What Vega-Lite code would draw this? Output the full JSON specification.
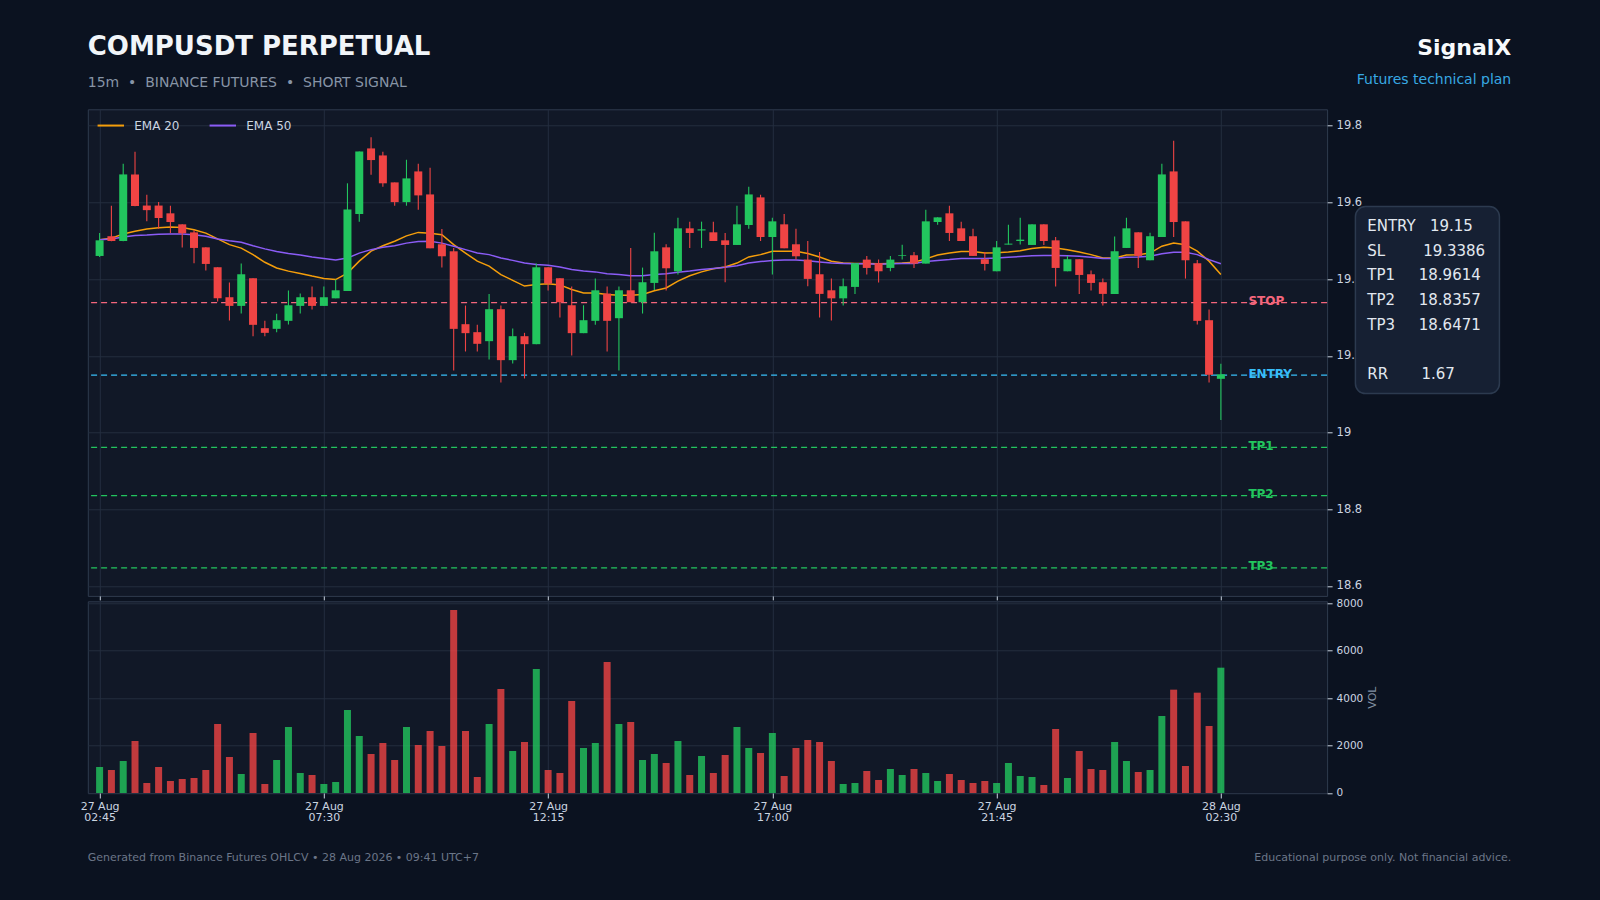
{
"$schema": "https://vega.github.io/schema/vega-lite/v6.json",
"background": "#0b1220",
"padding": {"left": 78.8, "top": 33.3, "right": 100, "bottom": 45},
"spacing": 5,
"bounds": "flush",
"datasets": {
"one": [{"k": 1}],
"levels": [
{"name": "STOP", "price": 19.3386},
{"name": "ENTRY", "price": 19.15},
{"name": "TP1", "price": 18.9614},
{"name": "TP2", "price": 18.8357},
{"name": "TP3", "price": 18.6471}
],
"candles": [
{"t":"2026-08-27T02:45","open":19.4605,"high":19.5205,"low":19.458,"close":19.5013,"volume":1095,"ema20":19.503,"ema50":19.503},
{"t":"2026-08-27T03:00","open":19.512,"high":19.5916,"low":19.499,"close":19.4996,"volume":968,"ema20":19.507,"ema50":19.505},
{"t":"2026-08-27T03:15","open":19.4996,"high":19.701,"low":19.499,"close":19.6732,"volume":1347,"ema20":19.518,"ema50":19.510},
{"t":"2026-08-27T03:30","open":19.673,"high":19.732,"low":19.590,"close":19.5908,"volume":2189,"ema20":19.525,"ema50":19.514},
{"t":"2026-08-27T03:45","open":19.592,"high":19.6203,"low":19.5508,"close":19.580,"volume":421,"ema20":19.531,"ema50":19.515},
{"t":"2026-08-27T04:00","open":19.592,"high":19.601,"low":19.5317,"close":19.5595,"volume":1095,"ema20":19.534,"ema50":19.517},
{"t":"2026-08-27T04:15","open":19.5717,"high":19.5916,"low":19.5205,"close":19.549,"volume":505,"ema20":19.536,"ema50":19.518},
{"t":"2026-08-27T04:30","open":19.543,"high":19.543,"low":19.4823,"close":19.5196,"volume":589,"ema20":19.535,"ema50":19.518},
{"t":"2026-08-27T04:45","open":19.522,"high":19.5274,"low":19.4415,"close":19.4814,"volume":632,"ema20":19.529,"ema50":19.516},
{"t":"2026-08-27T05:00","open":19.483,"high":19.483,"low":19.4224,"close":19.4397,"volume":968,"ema20":19.520,"ema50":19.512},
{"t":"2026-08-27T05:15","open":19.431,"high":19.431,"low":19.3416,"close":19.350,"volume":2905,"ema20":19.505,"ema50":19.505},
{"t":"2026-08-27T05:30","open":19.3529,"high":19.3911,"low":19.2921,"close":19.3303,"volume":1516,"ema20":19.490,"ema50":19.500},
{"t":"2026-08-27T05:45","open":19.3303,"high":19.4406,"low":19.3104,"close":19.4128,"volume":800,"ema20":19.481,"ema50":19.496},
{"t":"2026-08-27T06:00","open":19.4024,"high":19.4024,"low":19.2513,"close":19.2809,"volume":2526,"ema20":19.464,"ema50":19.487},
{"t":"2026-08-27T06:15","open":19.2722,"high":19.2913,"low":19.2513,"close":19.260,"volume":379,"ema20":19.444,"ema50":19.479},
{"t":"2026-08-27T06:30","open":19.2705,"high":19.3095,"low":19.2618,"close":19.293,"volume":1389,"ema20":19.429,"ema50":19.472},
{"t":"2026-08-27T06:45","open":19.2913,"high":19.3703,"low":19.2817,"close":19.332,"volume":2779,"ema20":19.421,"ema50":19.467},
{"t":"2026-08-27T07:00","open":19.3303,"high":19.3625,"low":19.3104,"close":19.3529,"volume":842,"ema20":19.415,"ema50":19.463},
{"t":"2026-08-27T07:15","open":19.3529,"high":19.3807,"low":19.3208,"close":19.3303,"volume":758,"ema20":19.408,"ema50":19.458},
{"t":"2026-08-27T07:30","open":19.3303,"high":19.3807,"low":19.3303,"close":19.3529,"volume":379,"ema20":19.402,"ema50":19.454},
{"t":"2026-08-27T07:45","open":19.350,"high":19.399,"low":19.350,"close":19.371,"volume":463,"ema20":19.399,"ema50":19.450},
{"t":"2026-08-27T08:00","open":19.3694,"high":19.650,"low":19.3694,"close":19.582,"volume":3495,"ema20":19.416,"ema50":19.455},
{"t":"2026-08-27T08:15","open":19.570,"high":19.733,"low":19.550,"close":19.733,"volume":2400,"ema20":19.447,"ema50":19.468},
{"t":"2026-08-27T08:30","open":19.741,"high":19.7704,"low":19.6724,"close":19.7106,"volume":1642,"ema20":19.473,"ema50":19.477},
{"t":"2026-08-27T08:45","open":19.7227,"high":19.732,"low":19.641,"close":19.650,"volume":2105,"ema20":19.487,"ema50":19.483},
{"t":"2026-08-27T09:00","open":19.6524,"high":19.6524,"low":19.5916,"close":19.601,"volume":1389,"ema20":19.499,"ema50":19.487},
{"t":"2026-08-27T09:15","open":19.601,"high":19.7114,"low":19.5916,"close":19.6628,"volume":2779,"ema20":19.513,"ema50":19.494},
{"t":"2026-08-27T09:30","open":19.681,"high":19.701,"low":19.5812,"close":19.6185,"volume":2021,"ema20":19.522,"ema50":19.498},
{"t":"2026-08-27T09:45","open":19.621,"high":19.6906,"low":19.4805,"close":19.4805,"volume":2611,"ema20":19.520,"ema50":19.499},
{"t":"2026-08-27T10:00","open":19.491,"high":19.5309,"low":19.4302,"close":19.4597,"volume":1979,"ema20":19.516,"ema50":19.494},
{"t":"2026-08-27T10:15","open":19.4727,"high":19.4814,"low":19.162,"close":19.2704,"volume":7705,"ema20":19.490,"ema50":19.486},
{"t":"2026-08-27T10:30","open":19.2826,"high":19.3312,"low":19.2114,"close":19.2592,"volume":2611,"ema20":19.468,"ema50":19.477},
{"t":"2026-08-27T10:45","open":19.2618,"high":19.2809,"low":19.2114,"close":19.2314,"volume":674,"ema20":19.447,"ema50":19.468},
{"t":"2026-08-27T11:00","open":19.2383,"high":19.3616,"low":19.1906,"close":19.3217,"volume":2905,"ema20":19.434,"ema50":19.464},
{"t":"2026-08-27T11:15","open":19.3217,"high":19.3312,"low":19.1307,"close":19.1888,"volume":4379,"ema20":19.412,"ema50":19.455},
{"t":"2026-08-27T11:30","open":19.1888,"high":19.2713,"low":19.180,"close":19.2513,"volume":1768,"ema20":19.397,"ema50":19.449},
{"t":"2026-08-27T11:45","open":19.2513,"high":19.260,"low":19.141,"close":19.2305,"volume":2147,"ema20":19.382,"ema50":19.442},
{"t":"2026-08-27T12:00","open":19.2305,"high":19.4406,"low":19.2305,"close":19.431,"volume":5221,"ema20":19.386,"ema50":19.438},
{"t":"2026-08-27T12:15","open":19.431,"high":19.431,"low":19.3703,"close":19.3885,"volume":968,"ema20":19.388,"ema50":19.436},
{"t":"2026-08-27T12:30","open":19.4024,"high":19.4024,"low":19.2999,"close":19.3399,"volume":842,"ema20":19.385,"ema50":19.432},
{"t":"2026-08-27T12:45","open":19.332,"high":19.3807,"low":19.201,"close":19.2592,"volume":3874,"ema20":19.373,"ema50":19.425},
{"t":"2026-08-27T13:00","open":19.2592,"high":19.332,"low":19.2592,"close":19.293,"volume":1895,"ema20":19.364,"ema50":19.421},
{"t":"2026-08-27T13:15","open":19.2913,"high":19.4015,"low":19.2809,"close":19.371,"volume":2105,"ema20":19.364,"ema50":19.419},
{"t":"2026-08-27T13:30","open":19.3625,"high":19.3807,"low":19.2114,"close":19.2913,"volume":5516,"ema20":19.360,"ema50":19.414},
{"t":"2026-08-27T13:45","open":19.2982,"high":19.3807,"low":19.162,"close":19.371,"volume":2905,"ema20":19.358,"ema50":19.412},
{"t":"2026-08-27T14:00","open":19.371,"high":19.4814,"low":19.3399,"close":19.3399,"volume":2989,"ema20":19.358,"ema50":19.409},
{"t":"2026-08-27T14:15","open":19.3399,"high":19.4302,"low":19.3104,"close":19.392,"volume":1389,"ema20":19.360,"ema50":19.409},
{"t":"2026-08-27T14:30","open":19.3902,"high":19.5213,"low":19.372,"close":19.4727,"volume":1642,"ema20":19.370,"ema50":19.412},
{"t":"2026-08-27T14:45","open":19.483,"high":19.491,"low":19.3703,"close":19.4284,"volume":1263,"ema20":19.377,"ema50":19.414},
{"t":"2026-08-27T15:00","open":19.4206,"high":19.5604,"low":19.4119,"close":19.5326,"volume":2189,"ema20":19.395,"ema50":19.418},
{"t":"2026-08-27T15:15","open":19.5326,"high":19.550,"low":19.4814,"close":19.5205,"volume":758,"ema20":19.409,"ema50":19.421},
{"t":"2026-08-27T15:30","open":19.527,"high":19.550,"low":19.4814,"close":19.530,"volume":1558,"ema20":19.419,"ema50":19.425},
{"t":"2026-08-27T15:45","open":19.5222,"high":19.550,"low":19.4996,"close":19.4996,"volume":842,"ema20":19.427,"ema50":19.428},
{"t":"2026-08-27T16:00","open":19.5013,"high":19.5205,"low":19.392,"close":19.4892,"volume":1600,"ema20":19.432,"ema50":19.431},
{"t":"2026-08-27T16:15","open":19.4892,"high":19.5916,"low":19.4892,"close":19.543,"volume":2779,"ema20":19.442,"ema50":19.435},
{"t":"2026-08-27T16:30","open":19.5413,"high":19.641,"low":19.5317,"close":19.621,"volume":1895,"ema20":19.458,"ema50":19.442},
{"t":"2026-08-27T16:45","open":19.6133,"high":19.6203,"low":19.4996,"close":19.510,"volume":1684,"ema20":19.464,"ema50":19.446},
{"t":"2026-08-27T17:00","open":19.510,"high":19.5604,"low":19.4119,"close":19.5508,"volume":2526,"ema20":19.473,"ema50":19.449},
{"t":"2026-08-27T17:15","open":19.543,"high":19.5699,"low":19.4805,"close":19.4805,"volume":716,"ema20":19.473,"ema50":19.450},
{"t":"2026-08-27T17:30","open":19.491,"high":19.5317,"low":19.451,"close":19.4597,"volume":1895,"ema20":19.473,"ema50":19.450},
{"t":"2026-08-27T17:45","open":19.451,"high":19.4996,"low":19.3816,"close":19.4007,"volume":2232,"ema20":19.467,"ema50":19.448},
{"t":"2026-08-27T18:00","open":19.4128,"high":19.471,"low":19.2999,"close":19.3616,"volume":2147,"ema20":19.458,"ema50":19.445},
{"t":"2026-08-27T18:15","open":19.371,"high":19.4015,"low":19.2921,"close":19.350,"volume":1347,"ema20":19.447,"ema50":19.442},
{"t":"2026-08-27T18:30","open":19.350,"high":19.4015,"low":19.3312,"close":19.3816,"volume":379,"ema20":19.442,"ema50":19.441},
{"t":"2026-08-27T18:45","open":19.3798,"high":19.4415,"low":19.3616,"close":19.4415,"volume":421,"ema20":19.441,"ema50":19.440},
{"t":"2026-08-27T19:00","open":19.451,"high":19.4606,"low":19.4119,"close":19.4293,"volume":926,"ema20":19.441,"ema50":19.440},
{"t":"2026-08-27T19:15","open":19.4415,"high":19.451,"low":19.3911,"close":19.4206,"volume":547,"ema20":19.440,"ema50":19.439},
{"t":"2026-08-27T19:30","open":19.4293,"high":19.4606,"low":19.4206,"close":19.451,"volume":1011,"ema20":19.441,"ema50":19.440},
{"t":"2026-08-27T19:45","open":19.4606,"high":19.490,"low":19.451,"close":19.4624,"volume":758,"ema20":19.442,"ema50":19.441},
{"t":"2026-08-27T20:00","open":19.4624,"high":19.471,"low":19.4293,"close":19.4406,"volume":1011,"ema20":19.444,"ema50":19.441},
{"t":"2026-08-27T20:15","open":19.4406,"high":19.5812,"low":19.4406,"close":19.5508,"volume":842,"ema20":19.453,"ema50":19.446},
{"t":"2026-08-27T20:30","open":19.5491,"high":19.5612,"low":19.542,"close":19.5612,"volume":505,"ema20":19.463,"ema50":19.449},
{"t":"2026-08-27T20:45","open":19.5717,"high":19.5916,"low":19.4996,"close":19.5205,"volume":800,"ema20":19.468,"ema50":19.451},
{"t":"2026-08-27T21:00","open":19.5326,"high":19.550,"low":19.4996,"close":19.4996,"volume":547,"ema20":19.472,"ema50":19.454},
{"t":"2026-08-27T21:15","open":19.512,"high":19.5317,"low":19.4606,"close":19.4606,"volume":421,"ema20":19.472,"ema50":19.454},
{"t":"2026-08-27T21:30","open":19.452,"high":19.471,"low":19.4224,"close":19.4397,"volume":505,"ema20":19.468,"ema50":19.454},
{"t":"2026-08-27T21:45","open":19.4206,"high":19.4996,"low":19.4206,"close":19.483,"volume":421,"ema20":19.469,"ema50":19.455},
{"t":"2026-08-27T22:00","open":19.4901,"high":19.5421,"low":19.4901,"close":19.4927,"volume":1263,"ema20":19.471,"ema50":19.457},
{"t":"2026-08-27T22:15","open":19.4996,"high":19.5604,"low":19.4901,"close":19.5031,"volume":716,"ema20":19.474,"ema50":19.459},
{"t":"2026-08-27T22:30","open":19.4892,"high":19.543,"low":19.4892,"close":19.543,"volume":674,"ema20":19.480,"ema50":19.461},
{"t":"2026-08-27T22:45","open":19.543,"high":19.543,"low":19.4892,"close":19.4996,"volume":337,"ema20":19.483,"ema50":19.462},
{"t":"2026-08-27T23:00","open":19.5013,"high":19.510,"low":19.3807,"close":19.4293,"volume":2695,"ema20":19.481,"ema50":19.462},
{"t":"2026-08-27T23:15","open":19.4206,"high":19.4606,"low":19.4206,"close":19.452,"volume":632,"ema20":19.477,"ema50":19.461},
{"t":"2026-08-27T23:30","open":19.452,"high":19.452,"low":19.3616,"close":19.411,"volume":1768,"ema20":19.471,"ema50":19.460},
{"t":"2026-08-27T23:45","open":19.4128,"high":19.4224,"low":19.3703,"close":19.3902,"volume":1011,"ema20":19.464,"ema50":19.457},
{"t":"2026-08-28T00:00","open":19.392,"high":19.4015,"low":19.3312,"close":19.3616,"volume":968,"ema20":19.455,"ema50":19.454},
{"t":"2026-08-28T00:15","open":19.3616,"high":19.511,"low":19.3616,"close":19.4727,"volume":2147,"ema20":19.455,"ema50":19.454},
{"t":"2026-08-28T00:30","open":19.4814,"high":19.5604,"low":19.4814,"close":19.5326,"volume":1347,"ema20":19.463,"ema50":19.457},
{"t":"2026-08-28T00:45","open":19.5222,"high":19.5222,"low":19.4293,"close":19.4606,"volume":884,"ema20":19.464,"ema50":19.458},
{"t":"2026-08-28T01:00","open":19.4493,"high":19.5213,"low":19.4493,"close":19.512,"volume":968,"ema20":19.468,"ema50":19.460},
{"t":"2026-08-28T01:15","open":19.510,"high":19.701,"low":19.510,"close":19.6732,"volume":3242,"ema20":19.486,"ema50":19.466},
{"t":"2026-08-28T01:30","open":19.681,"high":19.7609,"low":19.510,"close":19.549,"volume":4351,"ema20":19.494,"ema50":19.470},
{"t":"2026-08-28T01:45","open":19.5508,"high":19.5508,"low":19.4015,"close":19.4493,"volume":1137,"ema20":19.490,"ema50":19.470},
{"t":"2026-08-28T02:00","open":19.4415,"high":19.4502,"low":19.2817,"close":19.2913,"volume":4224,"ema20":19.473,"ema50":19.464},
{"t":"2026-08-28T02:15","open":19.293,"high":19.3208,"low":19.1307,"close":19.1507,"volume":2821,"ema20":19.447,"ema50":19.451},
{"t":"2026-08-28T02:30","open":19.1401,"high":19.1793,"low":19.0326,"close":19.152,"volume":5277,"ema20":19.412,"ema50":19.440}
]
},
"data": {"name": "candles"},
"vconcat": [
{
"width": 1239.3,
"height": 486.6,
"resolve": {"scale": {"color": "independent"}},
"layer": [
{
"data": {"name": "levels"},
"layer": [
{
"mark": {"type": "rule", "strokeDash": [6, 4], "strokeWidth": 1.3},
"encoding": {
"y": {"field": "price", "type": "quantitative", "scale": {"domain": [18.574, 19.843], "zero": false, "nice": false, "padding": 0}, "axis": {"orient": "right", "values": [18.6, 18.8, 19, 19.2, 19.4, 19.6, 19.8], "format": "~g", "tickSize": 5, "labelPadding": 4, "labelFontSize": 11.5, "grid": true, "title": null}},
"color": {"field": "name", "type": "nominal", "scale": {"domain": ["STOP", "ENTRY", "TP1", "TP2", "TP3"], "range": ["#f4667c", "#38bdf8", "#22c55e", "#22c55e", "#22c55e"]}, "legend": null}
}
},
{
"mark": {"type": "text", "align": "left", "baseline": "middle", "fontWeight": "bold", "fontSize": 12, "dy": -1.5},
"encoding": {
"x": {"datum": {"year": 2026, "month": "aug", "date": 28, "hours": 3, "minutes": 5}, "type": "temporal", "scale": {"domain": [{"year": 2026, "month": "aug", "date": 27, "hours": 2, "minutes": 30}, {"year": 2026, "month": "aug", "date": 28, "hours": 4, "minutes": 45}], "padding": 0}, "axis": {"values": [{"year": 2026, "month": "aug", "date": 27, "hours": 2, "minutes": 45}, {"year": 2026, "month": "aug", "date": 27, "hours": 7, "minutes": 30}, {"year": 2026, "month": "aug", "date": 27, "hours": 12, "minutes": 15}, {"year": 2026, "month": "aug", "date": 27, "hours": 17, "minutes": 0}, {"year": 2026, "month": "aug", "date": 27, "hours": 21, "minutes": 45}, {"year": 2026, "month": "aug", "date": 28, "hours": 2, "minutes": 30}], "labels": false, "ticks": true, "tickSize": 4, "grid": true, "domain": false, "title": null}},
"y": {"field": "price", "type": "quantitative", "scale": {"domain": [18.574, 19.843], "zero": false, "nice": false, "padding": 0}, "axis": {"orient": "right", "values": [18.6, 18.8, 19, 19.2, 19.4, 19.6, 19.8], "format": "~g", "tickSize": 5, "labelPadding": 4, "labelFontSize": 11.5, "grid": true, "title": null}},
"text": {"field": "name"},
"color": {"field": "name", "type": "nominal", "scale": {"domain": ["STOP", "ENTRY", "TP1", "TP2", "TP3"], "range": ["#f4667c", "#38bdf8", "#22c55e", "#22c55e", "#22c55e"]}, "legend": null}
}
}
]
},
{
"transform": [{"fold": ["ema20", "ema50"], "as": ["series", "ema"]}],
"mark": {"type": "line", "strokeWidth": 1.5},
"encoding": {
"x": {"field": "t", "type": "temporal", "scale": {"domain": [{"year": 2026, "month": "aug", "date": 27, "hours": 2, "minutes": 30}, {"year": 2026, "month": "aug", "date": 28, "hours": 4, "minutes": 45}], "padding": 0}, "axis": {"values": [{"year": 2026, "month": "aug", "date": 27, "hours": 2, "minutes": 45}, {"year": 2026, "month": "aug", "date": 27, "hours": 7, "minutes": 30}, {"year": 2026, "month": "aug", "date": 27, "hours": 12, "minutes": 15}, {"year": 2026, "month": "aug", "date": 27, "hours": 17, "minutes": 0}, {"year": 2026, "month": "aug", "date": 27, "hours": 21, "minutes": 45}, {"year": 2026, "month": "aug", "date": 28, "hours": 2, "minutes": 30}], "labels": false, "ticks": true, "tickSize": 4, "grid": true, "domain": false, "title": null}},
"y": {"field": "ema", "type": "quantitative", "scale": {"domain": [18.574, 19.843], "zero": false, "nice": false, "padding": 0}, "axis": {"orient": "right", "values": [18.6, 18.8, 19, 19.2, 19.4, 19.6, 19.8], "format": "~g", "tickSize": 5, "labelPadding": 4, "labelFontSize": 11.5, "grid": true, "title": null}},
"color": {
"field": "series", "type": "nominal",
"scale": {"domain": ["ema20", "ema50"], "range": ["#f59e0b", "#8b5cf6"]},
"legend": {"title": null, "orient": "none", "legendX": 8.5, "legendY": 1.5, "direction": "horizontal", "symbolType": "stroke", "symbolSize": 700, "symbolStrokeWidth": 2, "labelFontSize": 12, "labelColor": "#cbd5e1", "labelFont": "DejaVu Sans", "labelOffset": 9, "columnPadding": 25, "labelExpr": "datum.value == 'ema20' ? 'EMA 20' : 'EMA 50'"}
}
}
},
{
"mark": {"type": "rule", "strokeWidth": 1.1},
"encoding": {
"x": {"field": "t", "type": "temporal", "scale": {"domain": [{"year": 2026, "month": "aug", "date": 27, "hours": 2, "minutes": 30}, {"year": 2026, "month": "aug", "date": 28, "hours": 4, "minutes": 45}], "padding": 0}, "axis": {"values": [{"year": 2026, "month": "aug", "date": 27, "hours": 2, "minutes": 45}, {"year": 2026, "month": "aug", "date": 27, "hours": 7, "minutes": 30}, {"year": 2026, "month": "aug", "date": 27, "hours": 12, "minutes": 15}, {"year": 2026, "month": "aug", "date": 27, "hours": 17, "minutes": 0}, {"year": 2026, "month": "aug", "date": 27, "hours": 21, "minutes": 45}, {"year": 2026, "month": "aug", "date": 28, "hours": 2, "minutes": 30}], "labels": false, "ticks": true, "tickSize": 4, "grid": true, "domain": false, "title": null}},
"y": {"field": "low", "type": "quantitative", "scale": {"domain": [18.574, 19.843], "zero": false, "nice": false, "padding": 0}, "axis": {"orient": "right", "values": [18.6, 18.8, 19, 19.2, 19.4, 19.6, 19.8], "format": "~g", "tickSize": 5, "labelPadding": 4, "labelFontSize": 11.5, "grid": true, "title": null}},
"y2": {"field": "high"},
"color": {"condition": {"test": "datum.close >= datum.open", "value": "#22c55e"}, "value": "#ef4444"}
}
},
{
"mark": {"type": "bar", "width": 8},
"encoding": {
"x": {"field": "t", "type": "temporal", "scale": {"domain": [{"year": 2026, "month": "aug", "date": 27, "hours": 2, "minutes": 30}, {"year": 2026, "month": "aug", "date": 28, "hours": 4, "minutes": 45}], "padding": 0}, "axis": {"values": [{"year": 2026, "month": "aug", "date": 27, "hours": 2, "minutes": 45}, {"year": 2026, "month": "aug", "date": 27, "hours": 7, "minutes": 30}, {"year": 2026, "month": "aug", "date": 27, "hours": 12, "minutes": 15}, {"year": 2026, "month": "aug", "date": 27, "hours": 17, "minutes": 0}, {"year": 2026, "month": "aug", "date": 27, "hours": 21, "minutes": 45}, {"year": 2026, "month": "aug", "date": 28, "hours": 2, "minutes": 30}], "labels": false, "ticks": true, "tickSize": 4, "grid": true, "domain": false, "title": null}},
"y": {"field": "open", "type": "quantitative", "scale": {"domain": [18.574, 19.843], "zero": false, "nice": false, "padding": 0}, "axis": {"orient": "right", "values": [18.6, 18.8, 19, 19.2, 19.4, 19.6, 19.8], "format": "~g", "tickSize": 5, "labelPadding": 4, "labelFontSize": 11.5, "grid": true, "title": null}},
"y2": {"field": "close"},
"color": {"condition": {"test": "datum.close >= datum.open", "value": "#22c55e"}, "value": "#ef4444"}
}
},
{
"data": {"name": "one"},
"mark": {"type": "rect", "fill": "#162033", "stroke": "#2c3a4f", "strokeWidth": 1.5, "cornerRadius": 10},
"encoding": {
"x": {"datum": {"year": 2026, "month": "aug", "date": 28, "hours": 5, "minutes": 21}, "type": "temporal", "scale": {"domain": [{"year": 2026, "month": "aug", "date": 27, "hours": 2, "minutes": 30}, {"year": 2026, "month": "aug", "date": 28, "hours": 4, "minutes": 45}], "padding": 0}, "axis": {"values": [{"year": 2026, "month": "aug", "date": 27, "hours": 2, "minutes": 45}, {"year": 2026, "month": "aug", "date": 27, "hours": 7, "minutes": 30}, {"year": 2026, "month": "aug", "date": 27, "hours": 12, "minutes": 15}, {"year": 2026, "month": "aug", "date": 27, "hours": 17, "minutes": 0}, {"year": 2026, "month": "aug", "date": 27, "hours": 21, "minutes": 45}, {"year": 2026, "month": "aug", "date": 28, "hours": 2, "minutes": 30}], "labels": false, "ticks": true, "tickSize": 4, "grid": true, "domain": false, "title": null}},
"x2": {"datum": {"year": 2026, "month": "aug", "date": 28, "hours": 8, "minutes": 24}},
"y": {"datum": 19.5893, "type": "quantitative", "scale": {"domain": [18.574, 19.843], "zero": false, "nice": false, "padding": 0}, "axis": {"orient": "right", "values": [18.6, 18.8, 19, 19.2, 19.4, 19.6, 19.8], "format": "~g", "tickSize": 5, "labelPadding": 4, "labelFontSize": 11.5, "grid": true, "title": null}},
"y2": {"datum": 19.1016}
}
},
{
"data": {"name": "one"},
"mark": {"type": "text", "align": "left", "baseline": "alphabetic", "fontSize": 15, "lineHeight": 24.7, "color": "#e2e8f0",
"text": ["ENTRY\u00a0\u00a0\u00a019.15", "SL\u00a0\u00a0\u00a0\u00a0\u00a0\u00a0\u00a0\u00a019.3386", "TP1\u00a0\u00a0\u00a0\u00a0\u00a018.9614", "TP2\u00a0\u00a0\u00a0\u00a0\u00a018.8357", "TP3\u00a0\u00a0\u00a0\u00a0\u00a018.6471"]},
"encoding": {
"x": {"datum": {"year": 2026, "month": "aug", "date": 28, "hours": 5, "minutes": 36}, "type": "temporal", "scale": {"domain": [{"year": 2026, "month": "aug", "date": 27, "hours": 2, "minutes": 30}, {"year": 2026, "month": "aug", "date": 28, "hours": 4, "minutes": 45}], "padding": 0}, "axis": {"values": [{"year": 2026, "month": "aug", "date": 27, "hours": 2, "minutes": 45}, {"year": 2026, "month": "aug", "date": 27, "hours": 7, "minutes": 30}, {"year": 2026, "month": "aug", "date": 27, "hours": 12, "minutes": 15}, {"year": 2026, "month": "aug", "date": 27, "hours": 17, "minutes": 0}, {"year": 2026, "month": "aug", "date": 27, "hours": 21, "minutes": 45}, {"year": 2026, "month": "aug", "date": 28, "hours": 2, "minutes": 30}], "labels": false, "ticks": true, "tickSize": 4, "grid": true, "domain": false, "title": null}},
"y": {"datum": 19.5259, "type": "quantitative", "scale": {"domain": [18.574, 19.843], "zero": false, "nice": false, "padding": 0}, "axis": {"orient": "right", "values": [18.6, 18.8, 19, 19.2, 19.4, 19.6, 19.8], "format": "~g", "tickSize": 5, "labelPadding": 4, "labelFontSize": 11.5, "grid": true, "title": null}}
}
},
{
"data": {"name": "one"},
"mark": {"type": "text", "align": "left", "baseline": "alphabetic", "fontSize": 15, "color": "#e2e8f0", "text": "RR\u00a0\u00a0\u00a0\u00a0\u00a0\u00a0\u00a01.67"},
"encoding": {
"x": {"datum": {"year": 2026, "month": "aug", "date": 28, "hours": 5, "minutes": 36}, "type": "temporal", "scale": {"domain": [{"year": 2026, "month": "aug", "date": 27, "hours": 2, "minutes": 30}, {"year": 2026, "month": "aug", "date": 28, "hours": 4, "minutes": 45}], "padding": 0}, "axis": {"values": [{"year": 2026, "month": "aug", "date": 27, "hours": 2, "minutes": 45}, {"year": 2026, "month": "aug", "date": 27, "hours": 7, "minutes": 30}, {"year": 2026, "month": "aug", "date": 27, "hours": 12, "minutes": 15}, {"year": 2026, "month": "aug", "date": 27, "hours": 17, "minutes": 0}, {"year": 2026, "month": "aug", "date": 27, "hours": 21, "minutes": 45}, {"year": 2026, "month": "aug", "date": 28, "hours": 2, "minutes": 30}], "labels": false, "ticks": true, "tickSize": 4, "grid": true, "domain": false, "title": null}},
"y": {"datum": 19.1399, "type": "quantitative", "scale": {"domain": [18.574, 19.843], "zero": false, "nice": false, "padding": 0}, "axis": {"orient": "right", "values": [18.6, 18.8, 19, 19.2, 19.4, 19.6, 19.8], "format": "~g", "tickSize": 5, "labelPadding": 4, "labelFontSize": 11.5, "grid": true, "title": null}}
}
},
{
"data": {"name": "one"},
"mark": {"type": "text", "align": "left", "baseline": "alphabetic", "fontSize": 26, "fontWeight": "bold", "color": "#f1f5f9", "text": "COMPUSDT PERPETUAL"},
"encoding": {
"x": {"datum": {"year": 2026, "month": "aug", "date": 27, "hours": 2, "minutes": 30}, "type": "temporal", "scale": {"domain": [{"year": 2026, "month": "aug", "date": 27, "hours": 2, "minutes": 30}, {"year": 2026, "month": "aug", "date": 28, "hours": 4, "minutes": 45}], "padding": 0}, "axis": {"values": [{"year": 2026, "month": "aug", "date": 27, "hours": 2, "minutes": 45}, {"year": 2026, "month": "aug", "date": 27, "hours": 7, "minutes": 30}, {"year": 2026, "month": "aug", "date": 27, "hours": 12, "minutes": 15}, {"year": 2026, "month": "aug", "date": 27, "hours": 17, "minutes": 0}, {"year": 2026, "month": "aug", "date": 27, "hours": 21, "minutes": 45}, {"year": 2026, "month": "aug", "date": 28, "hours": 2, "minutes": 30}], "labels": false, "ticks": true, "tickSize": 4, "grid": true, "domain": false, "title": null}},
"y": {"datum": 19.985, "type": "quantitative", "scale": {"domain": [18.574, 19.843], "zero": false, "nice": false, "padding": 0}, "axis": {"orient": "right", "values": [18.6, 18.8, 19, 19.2, 19.4, 19.6, 19.8], "format": "~g", "tickSize": 5, "labelPadding": 4, "labelFontSize": 11.5, "grid": true, "title": null}}
}
},
{
"data": {"name": "one"},
"mark": {"type": "text", "align": "left", "baseline": "alphabetic", "fontSize": 14, "color": "#8794a6", "text": "15m\u00a0\u00a0•\u00a0\u00a0BINANCE FUTURES\u00a0\u00a0•\u00a0\u00a0SHORT SIGNAL"},
"encoding": {
"x": {"datum": {"year": 2026, "month": "aug", "date": 27, "hours": 2, "minutes": 30}, "type": "temporal", "scale": {"domain": [{"year": 2026, "month": "aug", "date": 27, "hours": 2, "minutes": 30}, {"year": 2026, "month": "aug", "date": 28, "hours": 4, "minutes": 45}], "padding": 0}, "axis": {"values": [{"year": 2026, "month": "aug", "date": 27, "hours": 2, "minutes": 45}, {"year": 2026, "month": "aug", "date": 27, "hours": 7, "minutes": 30}, {"year": 2026, "month": "aug", "date": 27, "hours": 12, "minutes": 15}, {"year": 2026, "month": "aug", "date": 27, "hours": 17, "minutes": 0}, {"year": 2026, "month": "aug", "date": 27, "hours": 21, "minutes": 45}, {"year": 2026, "month": "aug", "date": 28, "hours": 2, "minutes": 30}], "labels": false, "ticks": true, "tickSize": 4, "grid": true, "domain": false, "title": null}},
"y": {"datum": 19.900, "type": "quantitative", "scale": {"domain": [18.574, 19.843], "zero": false, "nice": false, "padding": 0}, "axis": {"orient": "right", "values": [18.6, 18.8, 19, 19.2, 19.4, 19.6, 19.8], "format": "~g", "tickSize": 5, "labelPadding": 4, "labelFontSize": 11.5, "grid": true, "title": null}}
}
},
{
"data": {"name": "one"},
"mark": {"type": "text", "align": "right", "baseline": "alphabetic", "fontSize": 22, "fontWeight": "bold", "color": "#f8fafc", "text": "SignalX"},
"encoding": {
"x": {"datum": {"year": 2026, "month": "aug", "date": 28, "hours": 8, "minutes": 39}, "type": "temporal", "scale": {"domain": [{"year": 2026, "month": "aug", "date": 27, "hours": 2, "minutes": 30}, {"year": 2026, "month": "aug", "date": 28, "hours": 4, "minutes": 45}], "padding": 0}, "axis": {"values": [{"year": 2026, "month": "aug", "date": 27, "hours": 2, "minutes": 45}, {"year": 2026, "month": "aug", "date": 27, "hours": 7, "minutes": 30}, {"year": 2026, "month": "aug", "date": 27, "hours": 12, "minutes": 15}, {"year": 2026, "month": "aug", "date": 27, "hours": 17, "minutes": 0}, {"year": 2026, "month": "aug", "date": 27, "hours": 21, "minutes": 45}, {"year": 2026, "month": "aug", "date": 28, "hours": 2, "minutes": 30}], "labels": false, "ticks": true, "tickSize": 4, "grid": true, "domain": false, "title": null}},
"y": {"datum": 19.985, "type": "quantitative", "scale": {"domain": [18.574, 19.843], "zero": false, "nice": false, "padding": 0}, "axis": {"orient": "right", "values": [18.6, 18.8, 19, 19.2, 19.4, 19.6, 19.8], "format": "~g", "tickSize": 5, "labelPadding": 4, "labelFontSize": 11.5, "grid": true, "title": null}}
}
},
{
"data": {"name": "one"},
"mark": {"type": "text", "align": "right", "baseline": "alphabetic", "fontSize": 14, "color": "#38a9e3", "text": "Futures technical plan"},
"encoding": {
"x": {"datum": {"year": 2026, "month": "aug", "date": 28, "hours": 8, "minutes": 39}, "type": "temporal", "scale": {"domain": [{"year": 2026, "month": "aug", "date": 27, "hours": 2, "minutes": 30}, {"year": 2026, "month": "aug", "date": 28, "hours": 4, "minutes": 45}], "padding": 0}, "axis": {"values": [{"year": 2026, "month": "aug", "date": 27, "hours": 2, "minutes": 45}, {"year": 2026, "month": "aug", "date": 27, "hours": 7, "minutes": 30}, {"year": 2026, "month": "aug", "date": 27, "hours": 12, "minutes": 15}, {"year": 2026, "month": "aug", "date": 27, "hours": 17, "minutes": 0}, {"year": 2026, "month": "aug", "date": 27, "hours": 21, "minutes": 45}, {"year": 2026, "month": "aug", "date": 28, "hours": 2, "minutes": 30}], "labels": false, "ticks": true, "tickSize": 4, "grid": true, "domain": false, "title": null}},
"y": {"datum": 19.909, "type": "quantitative", "scale": {"domain": [18.574, 19.843], "zero": false, "nice": false, "padding": 0}, "axis": {"orient": "right", "values": [18.6, 18.8, 19, 19.2, 19.4, 19.6, 19.8], "format": "~g", "tickSize": 5, "labelPadding": 4, "labelFontSize": 11.5, "grid": true, "title": null}}
}
}
]
},
{
"width": 1239.3,
"height": 191.7,
"layer": [
{
"mark": {"type": "bar", "width": 7, "opacity": 0.8},
"encoding": {
"x": {"field": "t", "type": "temporal", "scale": {"domain": [{"year": 2026, "month": "aug", "date": 27, "hours": 2, "minutes": 30}, {"year": 2026, "month": "aug", "date": 28, "hours": 4, "minutes": 45}], "padding": 0}, "axis": {"values": [{"year": 2026, "month": "aug", "date": 27, "hours": 2, "minutes": 45}, {"year": 2026, "month": "aug", "date": 27, "hours": 7, "minutes": 30}, {"year": 2026, "month": "aug", "date": 27, "hours": 12, "minutes": 15}, {"year": 2026, "month": "aug", "date": 27, "hours": 17, "minutes": 0}, {"year": 2026, "month": "aug", "date": 27, "hours": 21, "minutes": 45}, {"year": 2026, "month": "aug", "date": 28, "hours": 2, "minutes": 30}], "labelExpr": "[timeFormat(datum.value, '%d %b'), timeFormat(datum.value, '%H:%M')]", "labelFontSize": 11, "labelLineHeight": 11, "labelBaseline": "top", "tickSize": 5, "labelPadding": 3, "grid": true, "domain": false, "title": null}},
"y": {"field": "volume", "type": "quantitative", "scale": {"domain": [0, 8072], "nice": false, "padding": 0}, "axis": {"orient": "right", "values": [0, 2000, 4000, 6000, 8000], "format": "d", "tickSize": 5, "labelPadding": 4, "labelFontSize": 10.5, "grid": true, "title": "VOL", "titleColor": "#8391a3", "titleFontSize": 11, "titleFontWeight": "normal", "titleAngle": 270, "titleBaseline": "top", "titlePadding": 4}},
"color": {"condition": {"test": "datum.close >= datum.open", "value": "#22c55e"}, "value": "#ef4444"}
}
},
{
"data": {"name": "one"},
"mark": {"type": "text", "align": "left", "baseline": "alphabetic", "fontSize": 11, "color": "#6b7688", "text": "Generated from Binance Futures OHLCV • 28 Aug 2026 • 09:41 UTC+7"},
"encoding": {
"x": {"datum": {"year": 2026, "month": "aug", "date": 27, "hours": 2, "minutes": 30}, "type": "temporal", "scale": {"domain": [{"year": 2026, "month": "aug", "date": 27, "hours": 2, "minutes": 30}, {"year": 2026, "month": "aug", "date": 28, "hours": 4, "minutes": 45}], "padding": 0}, "axis": {"values": [{"year": 2026, "month": "aug", "date": 27, "hours": 2, "minutes": 45}, {"year": 2026, "month": "aug", "date": 27, "hours": 7, "minutes": 30}, {"year": 2026, "month": "aug", "date": 27, "hours": 12, "minutes": 15}, {"year": 2026, "month": "aug", "date": 27, "hours": 17, "minutes": 0}, {"year": 2026, "month": "aug", "date": 27, "hours": 21, "minutes": 45}, {"year": 2026, "month": "aug", "date": 28, "hours": 2, "minutes": 30}], "labelExpr": "[timeFormat(datum.value, '%d %b'), timeFormat(datum.value, '%H:%M')]", "labelFontSize": 11, "labelLineHeight": 11, "labelBaseline": "top", "tickSize": 5, "labelPadding": 3, "grid": true, "domain": false, "title": null}},
"y": {"datum": -2863, "type": "quantitative", "scale": {"domain": [0, 8072], "nice": false, "padding": 0}, "axis": {"orient": "right", "values": [0, 2000, 4000, 6000, 8000], "format": "d", "tickSize": 5, "labelPadding": 4, "labelFontSize": 10.5, "grid": true, "title": "VOL", "titleColor": "#8391a3", "titleFontSize": 11, "titleFontWeight": "normal", "titleAngle": 270, "titleBaseline": "top", "titlePadding": 4}}
}
},
{
"data": {"name": "one"},
"mark": {"type": "text", "align": "right", "baseline": "alphabetic", "fontSize": 11, "color": "#6b7688", "text": "Educational purpose only. Not financial advice."},
"encoding": {
"x": {"datum": {"year": 2026, "month": "aug", "date": 28, "hours": 8, "minutes": 39}, "type": "temporal", "scale": {"domain": [{"year": 2026, "month": "aug", "date": 27, "hours": 2, "minutes": 30}, {"year": 2026, "month": "aug", "date": 28, "hours": 4, "minutes": 45}], "padding": 0}, "axis": {"values": [{"year": 2026, "month": "aug", "date": 27, "hours": 2, "minutes": 45}, {"year": 2026, "month": "aug", "date": 27, "hours": 7, "minutes": 30}, {"year": 2026, "month": "aug", "date": 27, "hours": 12, "minutes": 15}, {"year": 2026, "month": "aug", "date": 27, "hours": 17, "minutes": 0}, {"year": 2026, "month": "aug", "date": 27, "hours": 21, "minutes": 45}, {"year": 2026, "month": "aug", "date": 28, "hours": 2, "minutes": 30}], "labelExpr": "[timeFormat(datum.value, '%d %b'), timeFormat(datum.value, '%H:%M')]", "labelFontSize": 11, "labelLineHeight": 11, "labelBaseline": "top", "tickSize": 5, "labelPadding": 3, "grid": true, "domain": false, "title": null}},
"y": {"datum": -2863, "type": "quantitative", "scale": {"domain": [0, 8072], "nice": false, "padding": 0}, "axis": {"orient": "right", "values": [0, 2000, 4000, 6000, 8000], "format": "d", "tickSize": 5, "labelPadding": 4, "labelFontSize": 10.5, "grid": true, "title": "VOL", "titleColor": "#8391a3", "titleFontSize": 11, "titleFontWeight": "normal", "titleAngle": 270, "titleBaseline": "top", "titlePadding": 4}}
}
}
]
}
],
"config": {
"view": {"fill": "#111827", "stroke": "#2f3b4e", "strokeWidth": 1},
"axis": {"gridColor": "#242e3f", "gridWidth": 1, "domain": false, "tickColor": "#cbd5e1", "tickWidth": 1, "labelColor": "#cbd5e1", "labelFont": "DejaVu Sans", "titleFont": "DejaVu Sans"},
"text": {"font": "DejaVu Sans"},
"legend": {"labelFont": "DejaVu Sans"}
}
}
